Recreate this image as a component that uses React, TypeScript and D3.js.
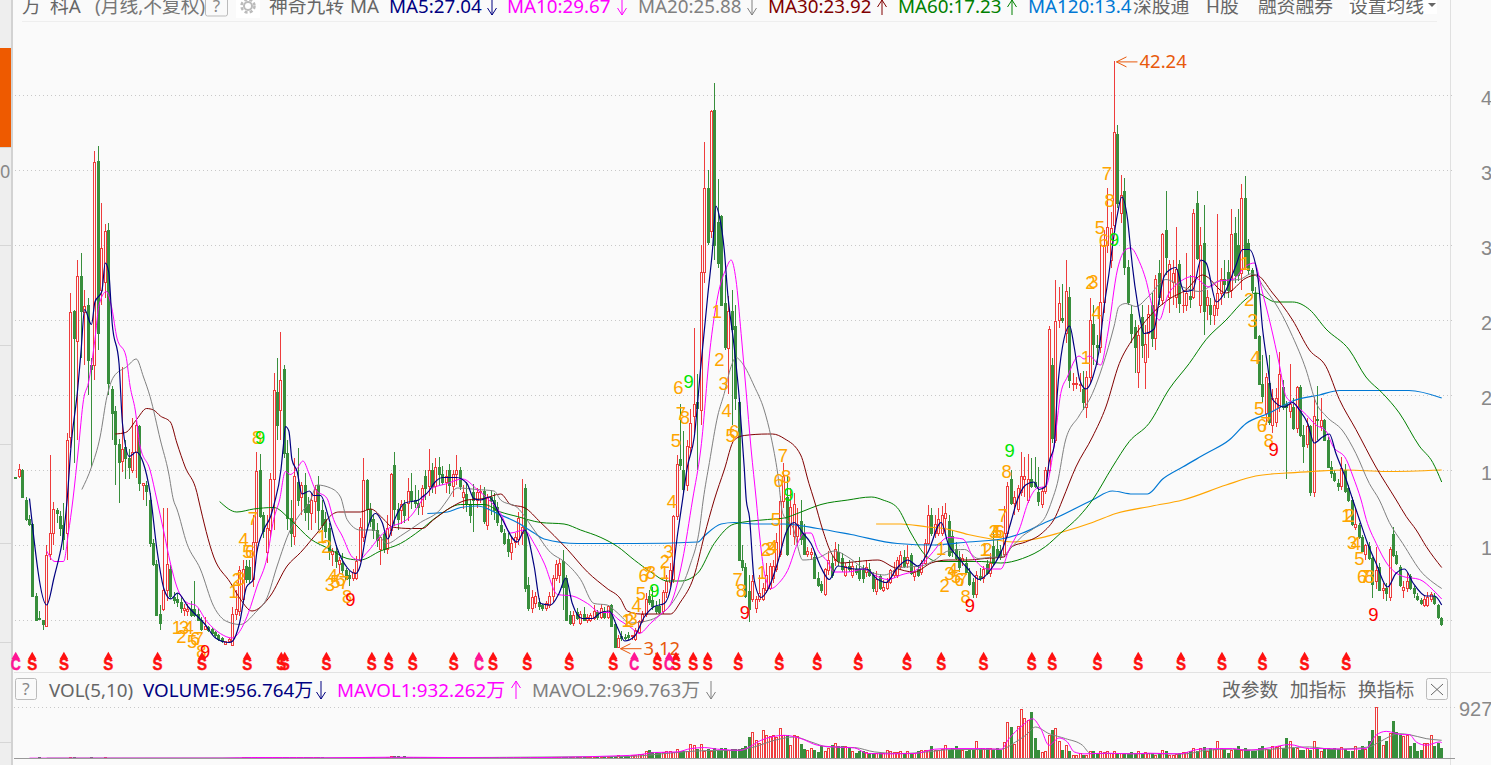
import React from 'react';
import * as d3 from 'd3';

// monthly candles, [open, high, low, close]
const ohlc: number[][] = [
  [14.5,14.55,14.45,14.48],[14.55,15.4,14.5,15.05],[15,15.05,13.2,13.2],[13,13.2,11.6,11.7],[11.7,12,11.3,11.4],
  [11.4,11.5,6.6,6.6],[6.6,6.8,5,5],[5.1,5.6,5,5.05],[4.95,5,4.35,4.7],[4.6,10,4.6,9.3],
  [9.35,16,9,10.8],[10.8,12.9,10,12.4],[12.3,12.5,11.5,12.1],[11.9,12.3,10.6,11.1],[11.3,12.8,9.7,10.4],
  [10.8,17.5,9,17],[17.2,26.8,16.5,25.5],[25.6,25.7,15.5,23.8],[23.6,29,17,27.9],[27.9,29.5,22.5,25.6],
  [25.5,27,22,25.9],[26,26.5,20,22.3],[22,22.5,15.2,21.7],[22,36.3,21,35.5],[35.6,36.6,23,24.1],
  [27,32.8,26,29.8],[27.5,31.4,26.5,30.9],[31,31.5,20,20.8],[20.4,20.6,17,18.8],[18.9,19.3,14,16.7],
  [16.7,17.1,12.8,15.5],[15.6,21.9,14.9,16.4],[16.5,17,14.4,15.8],[15.8,16.4,14.4,15.2],[15,18.5,14.8,16.2],
  [16.2,18.3,14.5,18],[17.9,18,13.6,14.1],[14,14.1,13,14.1],[14,14.3,12.6,13.6],[13,13.5,9.9,10.1],
  [10.1,10.4,8.6,8.7],[8.7,9,5.3,5.3],[5.4,6,4.35,4.75],[5.7,12.5,5.6,7],[7,12.5,6.3,8.7],
  [8.35,8.7,6.4,6.6],[6.5,6.9,6.1,6.3],[6.4,6.8,5.9,6.2],[6.2,6.6,5.5,5.8],[5.65,6.1,5.3,5.8],
  [5.6,6.1,5.3,5.7],[5.7,6.3,5.2,5.3],[5.7,7.6,5.2,5.3],[5.4,5.8,5,5],[5,5.2,4.3,4.4],
  [4.4,5.2,4.35,4.55],[4.5,4.6,4.2,4.3],[4.4,4.5,4,4.1],[4.2,4.3,3.8,3.95],[4,4.1,3.6,3.7],
  [3.8,3.9,3.5,3.55],[3.4,3.6,3.35,3.55],[3.6,3.8,3.5,3.7],[3.3,5.9,3.3,5.4],[5.4,7,5,5.7],
  [5.6,8.6,5.3,8.3],[6.4,9,6.2,8.4],[8.6,9,7.5,7.7],[8.5,9,7.5,7.7],[7.7,12,7.2,10.2],
  [10.2,16.2,9.5,14.9],[15,16.1,11.8,11.9],[12,12.2,10.5,10.9],[9.5,12,8.8,11.1],[11,14.8,10.5,14.4],
  [14.4,21.5,11,20.3],[20.2,22.5,17,18],[19,24.2,17,21],[21.7,22,15.8,16.1],[16.1,17,11,11.8],
  [11.8,13,9.9,10.8],[10.6,15.8,10,14.6],[14.2,16.5,12.6,13],[13.2,14.2,12,14],[14,14.8,11.6,12.2],
  [12.7,13.2,11,12.2],[12.1,13.5,11,13],[12.9,14,11.5,13.7],[14,14.6,11,12.3],[12.3,13,11,11.3],
  [11.7,12.2,10.5,10.9],[11.1,11.5,9,9.5],[9.4,9.8,8.6,9.6],[9.6,10,8.5,8.9],[8.7,9.2,8.1,9],
  [8.8,9.5,8,8.3],[8.3,8.5,7.7,7.7],[8,8.3,7.3,7.8],[7.8,8.4,7.6,8.2],[7.8,9.3,7.7,8.9],
  [9,11.8,8.9,11.2],[10.5,15.8,10.2,14.3],[14.3,14.4,11,12.4],[12.4,12.8,11.2,11.6],[11.7,12,10.4,11],
  [11,11.5,9.9,10.3],[9.7,10.5,8.7,10.5],[10.7,11,9.5,9.7],[9.7,12,9.4,11.1],[11,14.8,10.6,14.7],
  [15.3,16.2,11.3,12.4],[12.4,12.8,11,11.7],[12.3,13,11.4,12.7],[12.7,13,11.5,12],[12.8,14.5,11.6,13.6],
  [13.6,14.8,12.4,13],[13,14,12.5,12.8],[12.8,13.7,12,12.5],[12.6,14,12,13.8],[14.6,15,13,13.8],
  [13.9,16.4,13.3,15],[15,15.5,13.5,13.9],[13.9,15.8,13.4,15.2],[15.2,15.9,14,14.7],[14.7,15.3,14,14.2],
  [14.2,15,13.5,14.6],[15,15.4,13.4,14],[13.9,15,13.2,14.7],[14.7,16,14,15],[15,15.2,13.7,13.9],
  [13.2,14,12.4,13.5],[13.4,14.2,12.2,12.7],[12.7,13,11.5,12],[13.5,14.1,10.9,13],[13,13.8,12.5,13.5],
  [13.5,14,12.8,13.6],[13.6,13.9,11.4,11.6],[11.3,13.4,11,13.2],[13.2,13.7,12,13],[13,13.5,11.7,12.3],
  [12.5,12.9,11.3,11.5],[11.3,11.8,10.8,10.9],[10.8,11.1,10,10.1],[10.4,10.8,9.2,9.6],[9.5,10.6,9,10.1],
  [10.2,10.8,9.8,10.5],[10.4,12.2,10,11.8],[10.8,14.4,10,11.2],[13.8,14.1,6.9,7.1],[7.3,7.9,5.6,5.8],
  [5.8,7,5.5,6.5],[6.1,6.9,5.8,6.6],[6.2,6.5,5.7,5.9],[6,6.1,5.6,5.8],[5.8,6.3,5.6,6.1],
  [6,6.9,5.8,6.6],[6.6,8,6.2,7.8],[7.8,9,7.6,8.7],[8,9.1,7.5,8.8],[8.9,9.7,5.7,7.2],
  [7.8,8,5,5],[5.3,5.6,4.7,4.8],[4.8,5.6,4.6,5.3],[5.5,5.8,5,5.1],[4.8,5.6,4.7,5.4],
  [5.4,5.9,5,5],[5,5.4,4.8,5.2],[5,5.5,4.9,5.3],[5.1,6,5,5.6],[5.5,5.7,5,5.2],
  [5.2,6.1,5.1,5.8],[5.6,5.9,5.1,5.2],[5.2,6,5.1,5.9],[6,6.1,4.6,4.6],[4.7,4.8,3.2,3.2],
  [3.15,4,3.12,3.8],[3.9,4.3,3.6,3.75],[3.85,4.1,3.7,3.75],[4,4.2,3.7,3.85],[3.9,4,3.7,3.95],
  [3.7,4.5,3.6,4.3],[4.2,5,4.1,4.9],[4.9,5.6,4.8,5.35],[5.35,6.8,5.2,6.35],[6.6,7,6,6.2],
  [6.3,7.2,5.7,5.9],[5.9,6.3,5.4,5.6],[5.9,6.4,5.4,5.5],[5.6,7,5.4,6.85],[6.85,8,6.5,7.6],
  [7.5,8.8,7.2,8.3],[7.7,12,7.5,11.9],[11.9,16,11.7,15.4],[15.7,19.4,15,15.3],[15,17.6,13.5,13.7],
  [14,17,13.6,16.6],[16.5,19.1,16,18.1],[18.6,24.5,17.5,19.4],[19.5,21.4,15,19.1],[19,30,18,28.2],
  [28.2,36.9,27.5,33.8],[33.8,35,30,30.2],[30.9,39,30.5,38.9],[39,40.8,29,30],[31.5,34.4,28.5,28.8],
  [31.9,32,26,26],[26.1,28,23,23.2],[23.1,26.6,20.1,25.6],[25.6,27,18,24.4],[24.6,26,19,19.8],
  [19.5,19.8,9,9],[9,10,8.3,8.5],[8.5,8.8,6.5,6.6],[6.9,8,4.9,5.7],[6.35,8,6.2,7.6],
  [5.8,6.6,5.5,6.4],[6.4,8,6.2,6.8],[6.4,7.5,6.3,7.1],[7,8.8,6.8,8],[7.1,8.8,7,8.6],
  [7.8,9,7.5,8.6],[8.4,10.8,8.2,10.2],[9.4,13.3,9.2,12.9],[12.9,15.5,12.5,14.6],[13.2,14.7,9.3,9.4],
  [11.3,13.8,10.7,12.5],[10.6,13.5,10,12.7],[10.6,12.5,10,11.4],[11.6,13,10,10.4],[10.8,11.4,9.4,9.4],
  [9.4,9.9,9.2,9.6],[9.4,9.8,9,9.5],[9.2,9.6,7.8,7.8],[7.8,8.2,7.2,7.3],[7.4,7.6,6.8,7],
  [6.7,8.5,6.6,8.35],[8.3,9.6,8,9],[8.8,9.3,7.8,8],[9,10.2,8.6,9.7],[9.5,10.1,8.6,8.9],
  [9.1,9.5,8.2,8.4],[8,8.8,7.9,8.6],[8.6,9,8.2,8.4],[8,8.9,7.8,8.6],[8.4,8.7,8,8.2],
  [8.4,9.2,7.6,7.8],[8.3,8.7,7.5,7.8],[8.2,9,7.9,8.5],[8.4,8.8,7.9,8],[8,8.2,6.9,7.1],
  [6.9,8.3,6.7,7.7],[7.9,8.1,7,7.1],[7,7.7,6.9,7.2],[7.1,7.8,7,7.5],[7.5,8.4,7.4,8.3],
  [8,8.9,7.8,8.3],[8,9.2,7.8,9],[8.6,9.6,8.4,9.3],[9.2,9.7,8.5,8.6],[8.8,10,8.5,9.2],
  [9.3,9.5,8,8.1],[7.9,8.6,7.6,8.2],[8.4,8.7,7.9,8],[8.2,9,8,8.8],[8.8,10.4,8.7,10.1],
  [10.1,12.7,10,12],[12,12.5,10.6,10.8],[10.8,12,10.5,11.4],[10.8,12.5,10.6,11.7],[10.8,12.6,10.6,12],
  [11.8,12.8,10.8,12.1],[11.6,12,9.2,9.3],[10.6,11,9.2,9.5],[9.7,10.2,9,9.1],[9.2,9.6,8.2,8.5],
  [8.9,9.4,8.6,9.1],[8.8,9.2,8,8.2],[8.2,8.5,7.3,7.4],[7.5,7.8,6.5,6.7],[6.7,8.3,6.5,8],
  [7.9,8.5,7.6,7.8],[7.8,8.6,7.5,8.4],[8.7,9,8,8.1],[8.1,9.5,7.9,8.8],[9.9,11,8.7,8.8],
  [9.7,10.4,9,9.2],[9.6,10,9,9.2],[9.35,12.6,9.2,10.8],[10.8,14.2,10.5,13.9],[14.4,15,12.7,12.8],
  [12.8,13.6,12,13.2],[12.4,14,12.2,13.8],[13.5,16.2,13.3,14.6],[14.4,15.9,13.2,14.6],[13,16.1,12.8,14.4],
  [14.4,15.8,13.8,13.9],[14.2,15.9,13.8,13.9],[13.5,15.2,12.6,12.9],[12.7,13.9,12.5,13.6],[13.6,15.2,13.4,15],
  [15,24.6,14.8,24.4],[22,22.5,16.8,17.1],[17,27.7,16.8,24.9],[25,27.2,24.5,26.1],[25.1,27.4,24.8,25],
  [24.1,29,23.5,26.9],[26.5,27.2,20.5,21],[20.7,21.5,20.3,20.8],[20.7,21.2,20.4,20.8],[20.7,21.5,20.2,20.7],
  [20.4,21.6,19,19.5],[19.2,21.6,18.5,21.2],[21.2,26.5,20.8,25],[24.7,26,22,23.4],[23.3,24,22,23.2],
  [23.2,30,22.8,26.2],[26.2,31,25.5,30],[30,33.8,29.5,31.2],[29,32.2,28.5,31.1],[31.3,42.24,31,37.5],
  [37.4,38,32.5,32.8],[32.1,34.7,31.5,33.3],[33.6,34.5,28,28.5],[28.5,29,26,26.2],[25.4,26,23.5,24.1],
  [24.5,25,21.5,23.2],[21.5,24.7,20.5,24],[25.2,26,22.5,23.3],[22.2,24.7,20.4,23.4],[24.1,26,22.5,25.4],
  [26,26.8,23.2,23.8],[23.8,28,23,27.7],[28.1,29,26,26.5],[26.3,30.8,26,30.7],[31,33.6,28,29.2],
  [26.5,29,25.5,28.7],[27.5,29,26,28.1],[26.5,31.2,25.8,28.4],[28.7,29,25.5,26.1],[26,27,25.5,26],
  [26,29.5,25.6,26.8],[26.6,28,25.8,26.4],[26.5,32.4,26.4,32.1],[32.8,33.6,29,29.1],[26,31.2,25.5,30],
  [30.1,32.7,24,25.6],[26,27,25,26.5],[26,26.5,24.7,25.4],[25.3,26.4,24.7,26],[25.8,32.1,25.3,26.8],
  [26.8,28.5,26,27.7],[27.7,29,26.5,27.4],[28.2,29,26.5,27],[27,32.4,26.5,30.7],[30.8,31.9,27.5,28],
  [30,32.4,27.6,28],[28.1,34.1,27,33.1],[33.1,34.6,28.4,28.5],[30.1,30.4,28,28.3],[28.3,28.5,26.8,27],
  [26.8,27.2,23.8,23.8],[23.9,24,20.7,20.7],[20.7,22.7,19.5,19.9],[18.8,21.5,18,21.2],[20.8,22.7,18,18.2],
  [18,20.4,17.5,19.8],[18.2,20.5,17.9,19.8],[19.2,22.9,18.9,21.4],[20.5,21,19,19.2],[19.4,19.6,14.4,19.2],
  [18.9,22.1,18.5,19.4],[19.2,19.8,17.7,17.8],[17.8,20.6,17.5,20.5],[20.5,20.7,17.2,17.3],[17.3,18,15.5,16.6],
  [16.7,18.5,16.5,17.9],[17.9,18,13.3,13.5],[13.5,19.9,13.2,18.6],[18.4,20.6,17,18.3],[17.9,19.8,17.6,18.3],
  [18.3,18.4,17,17],[17,17.2,15.2,15.2],[15.2,15.6,14.5,14.8],[14.8,15,14.2,14.3],[14.1,14.4,13.6,13.9],
  [13.9,15.9,13.7,15.1],[15,15.4,13.5,13.6],[13.8,14,12.9,13],[13,13.2,11.3,11.35],[11.2,12.5,11,11.4],
  [11.3,11.5,10.4,10.5],[10.5,10.7,9.6,9.6],[9.35,10.1,9,10],[9.9,10.2,9,9.1],[9.1,9.2,6.5,7.4],
  [7.6,9.9,7.1,8.3],[8.5,8.8,7,7],[7,7.5,6.4,7.1],[7.1,7.5,6.3,6.8],[6.5,9.9,6.3,9.7],
  [10.7,11.2,9.2,9.3],[9.3,9.6,8.7,8.8],[8.5,8.7,7.2,7.3],[7,7.6,6.5,7.2],[7.1,8.2,6.9,7.6],
  [7.9,8.1,7,7.1],[7.1,7.3,6.5,6.8],[6.6,6.8,6.3,6.4],[6.3,6.5,6,6.1],[6,6.6,5.9,6.4],
  [6,6.9,5.9,6.5],[6.4,6.9,6.2,6.7],[6.6,6.8,6,6.1],[6,6.1,5.1,5.2],[5.1,5.2,4.6,4.7],
];

// volume bars, same months as the candles
const volumes: number[] = [
  1,1,1,1,1,1,1,2,1,1,1,1,1,1,1,1,2,2,1,1,
  1,1,2,1,1,1,2,1,1,1,1,1,1,1,1,1,1,1,1,1,
  1,1,1,1,1,1,1,1,1,1,1,1,1,1,1,1,1,1,1,1,
  1,1,1,1,1,1,2,2,3,4,4,3,3,2,3,3,3,4,4,4,
  2,2,2,2,2,2,2,2,2,2,1,1,1,1,1,1,1,1,1,1,
  2,3,2,2,2,1,1,1,4,5,5,5,4,5,2,2,2,2,2,2,
  2,2,2,2,2,2,2,2,2,2,2,2,2,2,2,2,2,2,2,2,2,
  2,2,2,2,2,2,3,3,3,3,2,2,2,2,3,4,4,3,2,2,
  2,2,2,2,3,3,2,2,2,2,2,2,2,3,10,7,6,7,8,10,
  12,11,22,25,18,18,16,19,20,20,18,28,22,20,22,42,38,27,42,22,
  28,22,30,24,30,30,25,27,28,28,30,35,62,80,55,45,85,68,65,68,
  62,92,70,68,38,68,65,42,28,25,30,25,18,35,22,30,38,45,35,35,
  35,30,20,14,20,20,18,15,15,14,15,15,25,20,18,18,20,15,20,15,
  15,20,25,25,25,35,25,25,28,40,25,30,35,25,25,20,25,25,50,30,
  30,30,30,25,30,25,47,110,95,42,98,148,122,115,140,60,25,17,22,68,
  85,90,50,25,40,20,8,10,15,10,10,20,20,14,20,18,22,14,22,15,
  15,15,15,18,16,20,14,18,15,14,10,15,25,20,10,10,12,15,18,18,
  20,30,20,30,32,22,30,28,50,30,28,15,25,28,35,25,30,25,20,22,
  30,35,28,25,35,32,35,30,60,50,30,30,25,25,30,25,50,30,20,30,
  30,28,30,28,32,28,20,20,35,25,35,28,50,85,155,65,40,50,75,113,
  80,68,65,70,35,45,22,25,45,45,70,35,45,30,
];

// moving averages, [month, price] read at the turning points of each line
const ma5: number[][] = [[4,13.1],[9,6],[11,7.7],[15,13.2],[16,16.4],[18,20.4],[19,23],[20,25.7],[22,24.7],[23,26.2],[25,26.9],[26,28.8],[27,28.2],[28,24.8],[30,22.1],[31,18.1],[33,15.9],[35,16.2],[37,15.5],[39,13.5],[41,9.7],[43,7.1],[45,6.4],[47,6.8],[50,5.9],[55,4.7],[58,3.8],[62,3.5],[63,3.6],[65,4.8],[67,7.2],[69,7.7],[70,9.5],[72,11],[74,11.9],[75,12.7],[77,15],[77.7,16.6],[78.3,17.9],[79.3,17.6],[80.2,15.7],[81.7,14.9],[83.1,13.4],[85.3,13.6],[86.5,13.3],[88.5,13.3],[91,11.7],[93.3,9.8],[96.2,8.5],[98.7,8.1],[100,8.6],[102,11],[104.5,12.1],[106.4,11.5],[108,10.4],[110,11.7],[113,12.8],[117,13],[118,13.2],[120,13.6],[121.4,14.1],[124,14.5],[128,14.5],[131,14.1],[133,13.1],[135,13],[137.4,13.2],[140.8,11.9],[145.6,10.2],[147.8,11],[150.5,8.6],[152.4,6.1],[155.3,6],[157.8,6.8],[159.7,7.8],[161.6,6.1],[164.5,5.1],[167.4,5.1],[169.9,5.5],[172.3,5.6],[174.7,4.5],[176.8,3.6],[179.6,3.9],[182.5,5.2],[185.4,5.9],[188.3,6.1],[190.2,7.2],[192.2,10.8],[193.6,13],[195,15.2],[197,17.2],[198.9,21.9],[200.9,26.6],[202.3,29.7],[203.3,32.6],[204.3,31.9],[205.7,29.7],[206.7,26.8],[208.6,23.2],[210.1,19.7],[211.5,15.2],[212.1,13],[213,11.9],[214.4,7.7],[216.4,6.5],[218.3,7],[221.2,8.8],[223.6,10.8],[226,11.5],[228.5,10.8],[230.9,10.1],[233.8,8.5],[236.2,7.7],[238.7,8.6],[243.5,8.4],[246.9,8.4],[250.3,7.7],[252.7,7.5],[256,8.5],[259,9],[261.9,8.6],[264.8,9.5],[268.7,11.5],[270.7,10.1],[273.5,9.2],[276.5,8.4],[279.8,7.7],[283.2,8.4],[287.4,10.3],[288.9,11.5],[290.8,13],[293.2,14],[295.6,14.2],[297.1,13.7],[299,13.9],[300,15.5],[301.5,16.6],[302.4,20.1],[303.9,23.2],[306,24.6],[307.3,23.2],[308.9,21],[310.7,20.4],[312.6,21.1],[314.4,22.8],[316,25.9],[317.4,28.1],[318.4,29.9],[319.9,32.1],[321.1,33.2],[322.8,31.7],[323.7,29.7],[324.2,28.6],[325.7,26.1],[327.6,24.1],[330.5,24.4],[332,26.4],[333.4,27.9],[335.4,28.4],[336.8,28.5],[339.2,26.9],[341.7,27],[344.1,29],[345.6,28.8],[348.6,26.2],[351.4,27],[354.2,28.6],[356.2,29.7],[358.1,29.7],[360.6,27.9],[362,24.4],[363.5,21.9],[364.9,19.7],[368.3,19.2],[370.7,19.5],[372.7,19],[375.1,18.1],[377,16.8],[379.4,17.2],[381.4,17.4],[383.3,16.1],[386.2,14.4],[388.2,13],[390.1,11.7],[392.5,10.1],[394.9,8.8],[398.3,7.2],[400.7,8.1],[403.2,8.4],[405.6,7.5],[409.5,6.6],[411.9,6.6],[414,6]];

const ma10: number[][] = [[9,9.6],[11.4,8.9],[13.9,8.9],[15.3,10.8],[16.6,13],[18.2,16.4],[19.7,19.7],[21.1,20.8],[23,23.7],[24.2,26],[26.3,26.9],[27.9,25.8],[29.4,23.8],[32,22.6],[33.2,20.6],[34.7,19],[36.1,16.6],[39,15],[41,13],[42.9,11],[44.9,8.8],[46.8,7.2],[50.2,6.1],[52.1,6],[55.5,4.9],[59.4,4.1],[62.8,3.8],[65.7,4.5],[67.6,5.5],[70,7.2],[73,9.2],[74.9,11.7],[76.6,13],[78.3,14.9],[79.7,14.7],[81.7,15.1],[83.4,15.6],[85.1,14.8],[87,13.7],[90.4,13.1],[92.3,11.7],[94.8,10.6],[97.7,9.2],[99.6,9],[102,9.5],[105.9,10.6],[108.8,11.2],[112.2,11.5],[114.6,11.9],[118,13],[120.4,13.7],[125.3,14.1],[129.7,14.4],[134,13.7],[137.4,13],[140.8,12.1],[143.7,10.8],[147.6,11],[150.5,10.1],[153.4,8.8],[157.3,6.7],[161.6,6.6],[166,6.1],[169.9,5.5],[172.3,5.5],[175.2,5],[178.6,4.5],[181,4.1],[184.4,4.8],[187.3,5.4],[190.2,6.1],[193.6,9],[196.5,13],[198.9,16.4],[201.8,23.5],[204.2,27],[206.2,28.4],[207.7,29],[209.1,27.7],[210.6,24.1],[212,20.4],[213.5,16.4],[215,13],[215.9,10.8],[217.4,8.1],[219.3,7.1],[221.7,7.5],[224.1,8.3],[227,10.1],[228.9,10.8],[230.9,10.8],[232.8,9.7],[235.7,8.9],[237.6,8.2],[241.6,8.2],[246.4,8.4],[249.3,8],[253.2,7.7],[257,8],[261.9,8.4],[265.8,9.4],[270.7,10.5],[275,10.4],[277.9,9.2],[282.2,8.4],[286,8.4],[288.4,9.7],[291.3,11],[294.2,13],[296.6,13.8],[299,13.9],[301.5,16.7],[303.4,20.1],[305.3,21.2],[308.7,22.6],[310.2,22.4],[311.6,22.6],[315,22],[316.9,23.9],[319.9,28.4],[322.3,29.7],[323.7,29.8],[326.2,28.9],[328.1,27.7],[330,25.9],[332,25],[334.4,26.6],[337.8,27.5],[341.7,27.9],[346.5,27.2],[349.4,27.6],[353.3,27.7],[357.2,28.6],[359.6,28.8],[362,26.8],[364.4,24.6],[366.8,22.1],[368.8,19.9],[371.2,19.4],[374.6,18.7],[377.5,18],[380.4,17.6],[382.4,16.6],[386.3,15.7],[388.2,14.6],[390.6,13],[392.1,11.7],[395,10.1],[398,8.8],[402.8,7.9],[407.6,7.7],[411.5,7],[414,6.4]];

const ma20: number[][] = [[19.2,13.7],[22,15.2],[24.5,17.2],[26.5,19.9],[28.4,21.2],[32.3,21.9],[35,22.4],[37.1,21.2],[39,19.9],[42,17],[44.4,14.8],[45.8,13],[46.8,12.4],[49.7,10.1],[53.6,8.4],[57.5,5.9],[61.3,4.9],[65.2,4.7],[69.6,5.5],[73,6.5],[75.9,8.6],[79.7,11],[82.7,12.1],[85.6,13],[87.5,14],[91.4,13.8],[94.3,13.2],[96.2,11.7],[100,11],[104,11],[107.8,10.1],[111.7,10.6],[117.5,11.5],[123.4,12.4],[125.3,13],[128.2,13.8],[134,13.7],[138.9,13.6],[140.8,13],[145.6,12.5],[150.5,11],[155.3,9.5],[159.2,8.9],[164,7.7],[167.9,6.1],[171.7,6],[174.6,5.5],[178.4,4.8],[184.2,5],[188,5.5],[191.9,6.6],[195.7,8.6],[198.6,11.2],[199.6,13],[201.4,15.5],[203.8,18.6],[205.7,20.1],[207.7,21.9],[209.1,22.5],[211,22.1],[214.4,20.6],[217.3,19],[219.3,17.2],[221.2,14.8],[222.7,12.1],[225.6,11.2],[228.5,9],[232.4,9.1],[237.7,9.6],[241.6,9.2],[246.4,8.4],[252.2,8],[257,8.5],[262.9,8.6],[266.8,9],[270.7,9.6],[275.5,9.7],[279.4,9.1],[284.2,9.2],[286,9.2],[289.3,9.9],[292.3,10.6],[296.1,11.2],[299,11.9],[300.9,13],[302.4,14.1],[304.8,17],[308.7,18.6],[312.6,20.1],[315.5,21.9],[318.9,24.6],[320.3,25.9],[322.3,26.1],[325.2,25.9],[329,26.6],[333.9,27.7],[338.8,27.2],[343.6,26.9],[349.4,27.6],[355.2,27.7],[359,28.1],[362.9,27],[366.8,25.7],[370.7,23.9],[374.6,21.7],[377.5,19.5],[380.4,18.6],[385.3,17.6],[389.1,16.1],[393,14.1],[395.9,13],[398.8,11.5],[402.7,10.1],[408.5,8.1],[411.5,7.5],[414,7.1]];

const ma30: number[][] = [[28.9,17.4],[31.9,17.5],[35.2,18.4],[38,19.1],[40,19],[42,18.6],[44.9,18.2],[46.8,16.8],[49.2,15.2],[52.6,13.5],[53.1,13],[57.5,9.2],[62.3,7.5],[65.2,6.4],[68.6,5.6],[73.9,6.6],[78.8,8.6],[82.7,9.5],[87.5,10.8],[92.3,12.1],[93.8,12.2],[100.1,12.2],[103,12.4],[106.9,11.7],[109.3,11.2],[114.6,11.1],[118,11.1],[121.4,11.7],[126.3,12.5],[131.1,13],[136,13.1],[140.8,13.4],[143.7,12.7],[147.6,12.5],[152.4,11.5],[160.2,9.7],[166,8.2],[171.7,7.1],[175.6,6.4],[177.6,5.6],[181.4,5.4],[186.3,5.4],[190.1,5.4],[193,6.2],[196.9,7.9],[199.9,10.6],[202.8,13],[205.7,15],[208.6,17],[211.5,17.3],[218.3,17.4],[219.7,17.4],[223.1,17.1],[227.9,16],[230.3,14.1],[231.8,13],[234.3,11],[236.7,9.5],[239.6,8.8],[244.4,8.9],[250.3,9],[255,8.5],[260.9,8.2],[265.8,8.8],[270.7,9],[276.5,9],[281.3,9.1],[286.9,9.2],[289.3,9.9],[293.2,10.2],[298,10.8],[301.9,11.9],[303.9,13],[307.8,15.2],[312.6,17.2],[316.5,19.2],[320.4,22.1],[324.2,23.7],[329,25.2],[334.9,26.4],[339.7,27],[344.6,28],[351.4,26.8],[357.2,27.8],[360.1,28],[364.9,26.8],[370.7,25],[375.6,23],[380.4,21.9],[384.3,19.7],[389.1,17.7],[394.9,15.2],[400.8,13],[403.7,11.9],[406.6,11],[409.5,9.9],[414,8.5]];

const ma60: number[][] = [[59.2,12.9],[64.2,12.2],[69.1,12.4],[74.9,12.5],[79.7,11.7],[85.6,10.4],[91.4,9.7],[96.2,9.1],[100,9],[105.9,9.6],[111.7,10.1],[117.5,11],[122.4,11.9],[129.2,12.7],[136,12.7],[140.8,12.2],[145.6,11.9],[152.4,11.5],[159.2,11.4],[164,11],[169.9,10.5],[174.7,9.9],[179.6,9],[184.4,8.2],[189.2,7.6],[193.1,7.6],[197.9,8.1],[202.8,10.1],[208.6,11.4],[218.3,11.7],[223.1,11.8],[228,12.2],[233.8,12.7],[241.6,13],[248.4,13.2],[251.8,13],[255.9,12.5],[259.9,10.8],[263.8,9.4],[267.7,8.9],[274.5,8.9],[280.3,8.9],[286,8.8],[292.3,9.1],[299,9.9],[303.4,10.8],[308.7,11.9],[312.6,13],[318.4,15.2],[323.3,16.9],[329,18.1],[334.9,20.4],[340.7,22.1],[345.6,23.7],[351.4,25],[357.2,26.4],[360,26.8],[365.9,26.2],[370.7,26.2],[375.6,25.7],[380.4,24.4],[387.2,23],[392,21.2],[396.9,20.1],[401.7,18.8],[407.5,16.6],[411.4,15.5],[414,14.2]];

const ma120: number[][] = [[119.5,12.1],[125.3,12.2],[129.2,12.5],[134,12.6],[140.8,12],[145.6,11.5],[150.5,10.8],[153.4,10.4],[163.1,10.1],[179.6,10.1],[198,10.2],[199.9,10.6],[204.8,11.4],[208.6,11.5],[214.4,11.4],[223.1,11.4],[232.8,11.1],[242.5,10.7],[256,10.1],[266.7,10],[276.5,10.2],[286.1,10.4],[292.3,10.8],[298,11.4],[302.9,11.9],[312.6,13],[318.4,13.6],[324.2,13.4],[328.6,13.4],[333,14.4],[338.8,15.2],[345.6,16.1],[352.3,17],[357.2,18.1],[364,18.8],[370.7,19.6],[378.5,20],[384.3,20.3],[404.5,20.3],[414,19.8]];

const ma250: number[][] = [[249.8,11.4],[257,11.4],[264.8,11.2],[269.6,11.1],[276.5,10.7],[283.2,10.4],[289.3,10.2],[296.1,10.4],[302.9,10.8],[312.6,11.5],[319.4,12.1],[330,12.6],[338.8,13],[351.4,14],[360,14.6],[368.8,14.8],[376.5,14.9],[386.2,15],[397.9,14.9],[414,15]];

const mavol1: number[][] = [[4,1],[60,1],[70,3],[90,2],[110,4],[140,2],[174.7,8],[181.5,12],[185.4,18],[192.1,20],[196,30],[200,33],[203.8,28],[210.6,25],[213,35],[216.4,55],[223.2,70],[228,60],[232.8,40],[237.7,35],[243.5,32],[247.4,15],[253.2,14],[261,15],[266.8,28],[271.6,30],[280.3,30],[286.1,28],[288.4,60],[292.3,100],[295.2,120],[297.6,90],[300,40],[302.9,62],[305.3,50],[307.3,20],[310.2,14],[316.5,16],[324.2,14],[329,16],[337.8,14],[343.6,28],[349.4,30],[353.3,30],[357.2,25],[363.9,32],[369.8,42],[375.6,30],[380.4,30],[386.2,28],[392,30],[394.9,70],[397.9,82],[402.7,72],[404.6,72],[406.6,50],[409.5,40],[413.4,50],[414,48]];

const mavol2: number[][] = [[9,1],[100,2],[175.7,6],[181.5,8],[187.3,14],[194,20],[200.9,24],[208.6,24],[214.4,35],[220.3,55],[226.1,65],[230.9,50],[235.8,35],[243.5,33],[249.3,20],[257,15],[264.8,20],[271.6,27],[280.3,27],[286.1,28],[290.3,50],[293.2,70],[296.1,95],[300,75],[304.8,60],[309.7,40],[312.1,15],[320.3,15],[331.9,14],[339.7,14],[345.6,25],[353.3,28],[360,25],[366.9,30],[375.6,35],[382.3,28],[393,35],[395.9,50],[401.7,75],[404.6,72],[409.5,60],[414,55]];

// magic nine turns count, [month, price, label]
const nineTurns: [number, number, string][] = [
  [46.8,4.5,'1'],[48.1,3.9,'2'],[48.9,4.5,'3'],[50.2,4.5,'4'],[51.2,3.6,'5'],[52.1,3.8,'6'],[53.1,3.8,'7'],[53.9,2.9,'8'],[55,2.9,'9'],
  [63.3,6.9,'1'],[64.2,7.7,'2'],[65.2,7.8,'3'],[66.2,10.4,'4'],[67.3,9.6,'5'],[68.1,9.6,'6'],[68.9,11.8,'7'],[70.1,17.2,'8'],[71,17.2,'9'],
  [89,10.6,'1'],[90.2,9.9,'2'],[91.2,7.4,'3'],[92.1,8,'4'],[92.8,7.6,'5'],[94.3,7.7,'6'],[95.3,7.5,'7'],[96.2,6.6,'8'],[97.2,6.4,'9'],
  [177.4,5,'1'],[178.1,5,'2'],[179.1,5.1,'3'],[180.3,6,'4'],[181.5,6.8,'5'],[182.3,8,'6'],[183.4,8.1,'7'],[184.4,8.2,'8'],[185.4,7,'9'],
  [188.3,8.2,'1'],[188.5,8.9,'2'],[189.5,9.6,'3'],[190.5,12.9,'4'],[191.7,17,'5'],[192.4,20.5,'6'],[193.1,18.8,'7'],[194.3,18.5,'8'],[195.4,20.9,'9'],
  [203.6,25.6,'1'],[204.3,22.4,'2'],[205.5,20.8,'3'],[206.4,19,'4'],[207.6,17.3,'5'],[208.6,17.6,'6'],[209.6,7.7,'7'],[210.6,7,'8'],[211.7,5.5,'9'],
  [216.7,8.2,'1'],[217.8,9.7,'2'],[219.1,9.8,'3'],[219.8,9.9,'4'],[220.7,11.7,'5'],[221.5,14.3,'6'],[222.7,16,'7'],[223.7,14.6,'8'],[224.4,13.4,'9'],
  [268.7,9.8,'1'],[269.7,7.3,'2'],[271.1,8.1,'3'],[272.1,8.4,'4'],[273,7.9,'5'],[274,7.7,'6'],[274.9,7.7,'7'],[275.8,6.6,'8'],[277,6,'9'],
  [281.3,9.7,'1'],[282.1,9.7,'2'],[284,10.9,'3'],[284.5,10.9,'4'],[285,10.9,'5'],[285.7,10.9,'6'],[286.6,12,'7'],[287.7,14.9,'8'],[288.6,16.3,'9'],
  [310.7,22.5,'1'],[312,27.5,'2'],[312.9,27.6,'3'],[313.8,25.5,'4'],[314.8,31.2,'5'],[315.9,30.3,'6'],[316.8,34.8,'7'],[317.6,33,'8'],[318.9,30.4,'9'],
  [356.9,28.8,'1'],[358.1,26.4,'2'],[359.1,25,'3'],[359.9,22.5,'4'],[361,19.1,'5'],[361.8,18,'6'],[362.9,18.1,'7'],[363.8,17,'8'],[365.2,16.4,'9'],
  [386.3,12,'1'],[387.2,12,'2'],[388,10.2,'3'],[389.1,10.1,'4'],[390.1,9.1,'5'],[390.9,7.9,'6'],[391.8,7.9,'7'],[393,7.9,'8'],[394.2,5.4,'9'],
];
// nines that finish above the price are drawn green
const greenNines = [71, 185.4, 195.4, 224.4, 288.6, 318.9];

const sMonths = [4.8,14,26.9,41.2,54.1,67.2,77.1,78.1,90.2,103.4,108.3,115.3,127.2,138.6,148.5,160.7,173.5,186.3,191.7,196.7,200.9,209.8,221.7,232.7,244.6,258.8,268.7,281,295,300.9,314.1,325.9,338.3,350.2,362,374.2,386.3];
const cMonths = [0,134.5,179.6,189.7];

const priceTicks = [40, 35, 30, 25, 20, 15, 10, 5];
const priceLabels = ['40', '35', '30', '25', '20', '15', '10'];

const headerItems: [string, number, string][] = [
  ['万', 22, '#666'], ['科A', 50, '#666'], ['(月线,不复权)', 95, '#777'], ['神奇九转', 269, '#666'], ['MA', 350, '#666'],
  ['MA5:27.04', 389, '#000080'], ['MA10:29.67', 507, '#ff00ff'], ['MA20:25.88', 638, '#808080'],
  ['MA30:23.92', 768, '#800000'], ['MA60:17.23', 898, '#008000'], ['MA120:13.4', 1028, '#0078d4'],
  ['深股通', 1133, '#666'], ['H股', 1206, '#666'], ['融资融券', 1258, '#666'], ['设置均线', 1349, '#666'],
];
const headerArrows: [number, boolean, string][] = [
  [492, false, '#000080'], [622, false, '#ff00ff'], [752, false, '#808080'], [882, true, '#800000'], [1012, true, '#008000'],
];
const volItems: [string, number, string][] = [
  ['VOL(5,10)', 49, '#666'], ['VOLUME:956.764万', 143, '#000080'], ['MAVOL1:932.262万', 337, '#ff00ff'], ['MAVOL2:969.763万', 532, '#808080'],
  ['改参数', 1222, '#666'], ['加指标', 1290, '#666'], ['换指标', 1358, '#666'],
];
const volArrows: [number, boolean, string][] = [[321, false, '#000080'], [516, true, '#ff00ff'], [711, false, '#808080']];
const sidebarBreaks = [147, 245, 345, 444, 543, 642, 742];

const BG = '#fafafa';
const RED = '#ee3c3c';
const GREEN = '#388e3c';
const NOTE = '#e8590c';
const UI_FONT = '"Noto Sans", "Noto Sans CJK SC", sans-serif';
const NUM_FONT = '"Liberation Sans", Arial, sans-serif';

const x = d3.scaleLinear().domain([0, 414]).range([15.7, 1441.7]);
const y = d3.scaleLinear().domain([5, 40]).range([620, 95]);
const yVol = d3.scaleLinear().domain([0, 154]).range([758.5, 707.5]);

const priceLine = d3.line<number[]>().x(d => x(d[0])).y(d => y(d[1])).curve(d3.curveMonotoneX);
const volLine = d3.line<number[]>().x(d => x(d[0])).y(d => yVol(d[1])).curve(d3.curveMonotoneX);
const triangle = d3.symbol().type(d3.symbolTriangle).size(30);

const maStyles: [number[][], string, number][] = [
  [ma250, '#ffa500', 1.2], [ma120, '#0078d4', 1.2], [ma60, '#008000', 1], [ma30, '#800000', 1],
  [ma20, '#808080', 1], [ma10, '#ff00ff', 1], [ma5, '#000080', 1.2],
];

// thin tall arrow used next to the indicator values
const arrow = (ax: number, top: number, bottom: number, up: boolean, color: string, key: string) => {
  const tip = up ? top : bottom;
  const dir = up ? 5 : -5;
  return (
    <path key={key} d={`M${ax},${top}V${bottom}M${ax - 4.5},${tip + dir * 1.4}L${ax},${tip}L${ax + 4.5},${tip + dir * 1.4}`}
      fill="none" stroke={color} strokeWidth={1} />
  );
};

const note = (month: number, price: number, label: string) => {
  const ax = x(month) + 2;
  const ay = y(price);
  return (
    <g key={label} stroke={NOTE} fill="none">
      <path d={`M${ax + 21},${ay + 0.5}H${ax}M${ax + 10},${ay - 4.5}L${ax},${ay + 0.5}L${ax + 10},${ay + 5.5}`} strokeWidth={1} />
      <text x={ax + 23} y={ay + 6.5} fill={NOTE} stroke="none" fontSize={18.5} fontFamily={UI_FONT}>{label}</text>
    </g>
  );
};

const signal = (m: number, label: string, color: string) => (
  <g key={`${label}${m}`} fill={color}>
    <path d={triangle() ?? ''} transform={`translate(${x(m)},656.5)`} />
    <text x={x(m)} y={670} textAnchor="middle" fontSize={17} fontWeight="bold" stroke={color} strokeWidth={0.5}
      textLength={10} lengthAdjust="spacingAndGlyphs" fontFamily={NUM_FONT}>{label}</text>
  </g>
);

export default function App() {
  return (
    <svg width={1491} height={765} style={{ position: 'fixed', left: 0, top: 0, display: 'block', background: BG }}>
      {/* left sidebar sliver */}
      <rect x={0} y={0} width={11} height={765} fill="#eeeeee" />
      <rect x={11} y={0} width={2} height={765} fill="#d2d2d2" />
      {sidebarBreaks.map(b => <line key={b} x1={0} x2={11} y1={b + 0.5} y2={b + 0.5} stroke="#d6d6d6" />)}
      <rect x={0} y={48} width={11} height={99} fill="#ee5a00" />
      <text x={0} y={178} fontSize={18} fill="#888" fontFamily={UI_FONT}>0</text>

      {/* header */}
      <line x1={22} x2={1437} y1={21.5} y2={21.5} stroke="#eeeeee" />
      <rect x={236} y={0} width={24} height={18} fill="#fff" />
      <circle cx={248} cy={6} r={4} fill="none" stroke="#bbb" strokeWidth={2} />
      <circle cx={248} cy={6} r={6.5} fill="none" stroke="#bbb" strokeWidth={2.5} strokeDasharray="3 2.2" />
      <rect x={205.5} y={-3} width={22} height={19} rx={2} fill="none" stroke="#bbb" />
      <text x={216.5} y={12} textAnchor="middle" fontSize={17} fill="#888" fontFamily={UI_FONT}>?</text>
      <rect x={1349} y={0} width={88} height={14} fill="#fff" />
      {headerItems.map(([label, hx, color]) => (
        <text key={label} x={hx} y={12.5} fontSize={18.8} fill={color} fontFamily={UI_FONT}>{label}</text>
      ))}
      {headerArrows.map(([ax, up, color]) => arrow(ax, 0, 15, up, color, `h${ax}`))}
      <path d="M1428,3H1436L1432,7Z" fill="#666" />

      {/* grid */}
      {priceTicks.map(t => (
        <line key={t} x1={15} x2={1455} y1={y(t) + 0.5} y2={y(t) + 0.5} stroke="#c8c8c8" strokeDasharray="1 3" />
      ))}
      <line x1={1450.5} x2={1450.5} y1={0} y2={765} stroke="#e0e0e0" />
      {priceLabels.map(t => (
        <text key={t} x={1481} y={y(+t) + 10} fontSize={20} fill="#888" fontFamily={NUM_FONT}>{t}</text>
      ))}

      {/* candles */}
      <g shapeRendering="crispEdges">
        {ohlc.map((d, i) => {
          const cx = Math.floor(x(i));
          const up = d[3] >= d[0];
          const color = up ? RED : GREEN;
          const top = y(Math.max(d[0], d[3]));
          const bottom = y(Math.min(d[0], d[3]));
          return (
            <g key={i}>
              <line x1={cx + 0.5} x2={cx + 0.5} y1={y(d[1])} y2={y(d[2])} stroke={color} />
              <rect x={cx - 0.5} y={top} width={2} height={Math.max(bottom - top, 0.6)} fill={up ? BG : GREEN} stroke={color} />
            </g>
          );
        })}
      </g>

      {/* moving averages */}
      {maStyles.map(([points, color, w]) => (
        <path key={color} d={priceLine(points) ?? ''} fill="none" stroke={color} strokeWidth={w} />
      ))}

      {/* magic nine turns */}
      {nineTurns.map(([m, p, label], i) => {
        const color = label !== '9' ? '#ffa500' : greenNines.includes(m) ? '#00e600' : '#ff0000';
        return (
          <text key={i} x={x(m)} y={y(p)} dy="0.36em" textAnchor="middle" fontSize={18.5} fill={color} fontFamily={NUM_FONT}>{label}</text>
        );
      })}

      {note(319, 42.24, '42.24')}
      {note(175, 3.12, '3.12')}

      {/* S and C signals */}
      {sMonths.map(m => signal(m, 'S', '#ff1010'))}
      {cMonths.map(m => signal(m, 'C', '#ff1493'))}

      {/* volume panel */}
      <line x1={14} x2={1491} y1={672.5} y2={672.5} stroke="#e2e2e2" />
      <rect x={15.5} y={678.5} width={21} height={21} rx={2} fill="none" stroke="#bbb" />
      <text x={26} y={695} textAnchor="middle" fontSize={17} fill="#888" fontFamily={UI_FONT}>?</text>
      {volItems.map(([label, vx, color]) => (
        <text key={label} x={vx} y={696.5} fontSize={18.8} fill={color} fontFamily={UI_FONT}>{label}</text>
      ))}
      {volArrows.map(([ax, up, color]) => arrow(ax, 681, 699, up, color, `v${ax}`))}
      <rect x={1426.5} y={678.5} width={21} height={21} rx={2} fill="none" stroke="#bbb" />
      <path d="M1431,684L1443,695M1443,684L1431,695" stroke="#666" fill="none" />
      <line x1={14} x2={1455} y1={707.5} y2={707.5} stroke="#c8c8c8" strokeDasharray="1 3" />
      <text x={1459} y={716} fontSize={20} fill="#888" fontFamily={NUM_FONT}>927</text>
      <g shapeRendering="crispEdges">
        {volumes.map((v, i) => {
          const d = ohlc[i];
          if (!d) return null;
          const cx = Math.floor(x(i));
          const up = d[3] >= d[0];
          return (
            <rect key={i} x={cx - 0.5} y={yVol(v)} width={2} height={Math.max(yVol(0) - yVol(v), 0.5)}
              fill={up ? BG : GREEN} stroke={up ? RED : GREEN} />
          );
        })}
      </g>
      <path d={volLine(mavol2) ?? ''} fill="none" stroke="#808080" />
      <path d={volLine(mavol1) ?? ''} fill="none" stroke="#ff00ff" />
      <line x1={14} x2={1455} y1={758.5} y2={758.5} stroke="#999" />
    </svg>
  );
}
